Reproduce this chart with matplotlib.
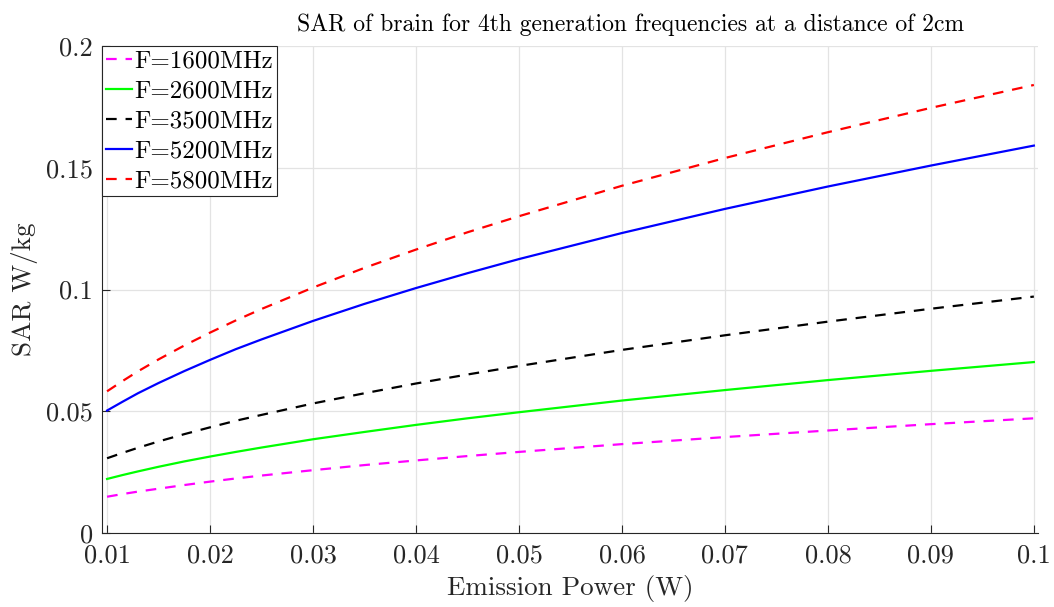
import matplotlib
matplotlib.use("Agg")
import matplotlib.pyplot as plt

plt.rcParams['font.family'] = ['cmr10', 'DejaVu Serif']
plt.rcParams['mathtext.fontset'] = 'cm'
plt.rcParams['axes.formatter.use_mathtext'] = True

power = [0.01, 0.0115, 0.013, 0.015, 0.0175, 0.02, 0.0225, 0.025, 0.03, 0.035, 0.04, 0.045,
         0.05, 0.06, 0.07, 0.08, 0.09, 0.1]
sar_1600 = [0.0149, 0.0160, 0.0170, 0.0182, 0.0197, 0.0211, 0.0224, 0.0236, 0.0258, 0.0279, 0.0298, 0.0316,
            0.0333, 0.0365, 0.0394, 0.0421, 0.0447, 0.0471]
sar_2600 = [0.0222, 0.0238, 0.0253, 0.0272, 0.0294, 0.0314, 0.0333, 0.0351, 0.0385, 0.0415, 0.0444, 0.0471,
            0.0496, 0.0544, 0.0587, 0.0628, 0.0666, 0.0702]
sar_3500 = [0.0307, 0.0329, 0.0350, 0.0376, 0.0406, 0.0434, 0.0461, 0.0485, 0.0532, 0.0574, 0.0614, 0.0651,
            0.0686, 0.0752, 0.0812, 0.0868, 0.0921, 0.0971]
sar_5200 = [0.0503, 0.0539, 0.0574, 0.0616, 0.0665, 0.0711, 0.0755, 0.0795, 0.0871, 0.0941, 0.1006, 0.1067,
            0.1125, 0.1232, 0.1331, 0.1423, 0.1509, 0.1591]
sar_5800 = [0.0582, 0.0624, 0.0664, 0.0713, 0.0770, 0.0823, 0.0873, 0.0920, 0.1008, 0.1089, 0.1164, 0.1235,
            0.1301, 0.1426, 0.1540, 0.1646, 0.1746, 0.1840]

labels = ['F=1600MHz', 'F=2600MHz', 'F=3500MHz', 'F=5200MHz', 'F=5800MHz']
xticks = [0.01, 0.02, 0.03, 0.04, 0.05, 0.06, 0.07, 0.08, 0.09, 0.1]
xticklabels = ['0.01', '0.02', '0.03', '0.04', '0.05', '0.06', '0.07', '0.08', '0.09', '0.1']
yticks = [0, 0.05, 0.1, 0.15, 0.2]
yticklabels = ['0', '0.05', '0.1', '0.15', '0.2']

fig = plt.figure(figsize=(10.54, 6.07), dpi=100)
ax = fig.add_axes([0.0968, 0.1219, 0.888, 0.8023])

dash = (4.8, 4)
lw = 1.6
ax.plot(power, sar_1600, color='#ff00ff', lw=lw, dashes=dash, label=labels[0])
ax.plot(power, sar_2600, color='#00ff00', lw=lw, label=labels[1])
ax.plot(power, sar_3500, color='black', lw=lw, dashes=dash, label=labels[2])
ax.plot(power, sar_5200, color='#0000ff', lw=lw, label=labels[3])
ax.plot(power, sar_5800, color='#ff0000', lw=lw, dashes=dash, label=labels[4])

ax.set_xlim(0.00951, 0.1004)
ax.set_ylim(0, 0.2)
ax.set_xticks(xticks)
ax.set_xticklabels(xticklabels)
ax.set_yticks(yticks)
ax.set_yticklabels(yticklabels)
ax.tick_params(direction='in', length=6, width=0.8, colors='#262626', labelsize=19, labelcolor='#262626')
ax.tick_params(axis='y', pad=6.5)
ax.tick_params(axis='x', pad=8)
ax.grid(True, color='#e3e3e3', lw=0.9)
ax.set_axisbelow(True)
for s in ['top', 'right']:
    ax.spines[s].set_visible(False)
for s in ['left', 'bottom']:
    ax.spines[s].set_color('#262626')
    ax.spines[s].set_linewidth(0.8)

ax.set_xlabel('Emission Power (W)', fontsize=19.5, color='#262626', labelpad=5)
ax.set_ylabel('SAR W/kg', fontsize=19.5, color='#262626', labelpad=6)
ax.set_title('SAR of brain for 4th generation frequencies at a distance of 2cm', fontsize=17, color='black',
             pad=11, x=0.565)

leg = ax.legend(loc='upper left', fontsize=18, frameon=True, fancybox=False, borderaxespad=0,
                handlelength=1.05, handletextpad=0.1, borderpad=0.15, labelspacing=0.3)
leg.get_frame().set_edgecolor('#262626')
leg.get_frame().set_linewidth(0.8)
leg.get_frame().set_alpha(1)

fig.savefig('out.png', dpi=100)
